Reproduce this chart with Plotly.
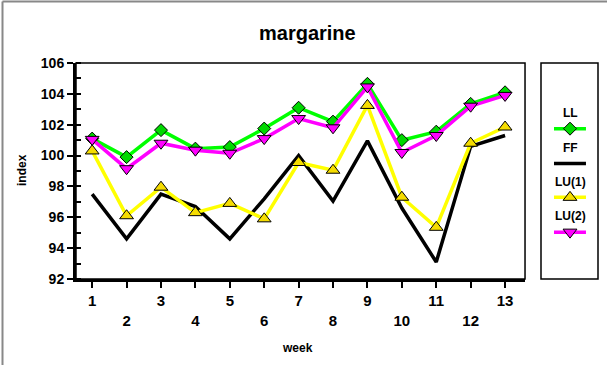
import plotly.graph_objects as go

# ---- data ----
weeks = list(range(1, 14))
week_labels = [str(w) if w % 2 == 1 else "<br>" + str(w) for w in weeks]
LL = [101.1, 99.9, 101.65, 100.45, 100.55, 101.75, 103.1, 102.2, 104.65, 101.0, 101.55, 103.35, 104.1]
FF = [97.5, 94.6, 97.5, 96.7, 94.6, 97.2, 100.0, 97.05, 100.95, 96.6, 93.1, 100.6, 101.3]
LU1 = [100.3, 96.1, 97.95, 96.3, 96.9, 95.9, 99.55, 99.05, 103.25, 97.3, 95.35, 100.8, 101.85]
LU2 = [101.05, 99.15, 100.8, 100.35, 100.15, 101.1, 102.4, 101.8, 104.45, 100.2, 101.3, 103.2, 103.9]
series_names = ["LL", "FF", "LU(1)", "LU(2)"]

FONT = "Liberation Sans, Arial, Helvetica, sans-serif"

styles = {
    "LL": dict(line="#00ff00", marker=dict(symbol="diamond", size=10, color="#00d800",
                                          line=dict(color="black", width=1))),
    "FF": dict(line="black", marker=None),
    "LU(1)": dict(line="#ffff00", marker=dict(symbol="triangle-up", size=12, color="#f5dc00",
                                             line=dict(color="black", width=1))),
    "LU(2)": dict(line="#ff00ff", marker=dict(symbol="triangle-down", size=12, color="#ff00ff",
                                             line=dict(color="black", width=1))),
}
values = {"LL": LL, "FF": FF, "LU(1)": LU1, "LU(2)": LU2}

fig = go.Figure()
for name in ["FF", "LU(1)", "LL", "LU(2)"]:
    st = styles[name]
    fig.add_trace(go.Scatter(
        x=weeks, y=values[name], name=name,
        mode="lines+markers" if st["marker"] else "lines",
        line=dict(color=st["line"], width=3.5),
        marker=st["marker"], showlegend=False, xaxis="x", yaxis="y", cliponaxis=False))

# ---- custom legend on a hidden axis pair ----
leg_text_y = [0.770, 0.608, 0.447, 0.290]
leg_line_y = [0.696, 0.535, 0.378, 0.217]
annotations = []
for name, ty, ly in zip(series_names, leg_text_y, leg_line_y):
    st = styles[name]
    fig.add_trace(go.Scatter(x=[0.228, 0.789], y=[ly, ly], mode="lines",
                             line=dict(color=st["line"], width=3.5),
                             showlegend=False, xaxis="x2", yaxis="y2", hoverinfo="skip"))
    if st["marker"]:
        fig.add_trace(go.Scatter(x=[0.509], y=[ly], mode="markers", marker=st["marker"],
                                 showlegend=False, xaxis="x2", yaxis="y2", hoverinfo="skip"))
    annotations.append(dict(x=0.509, y=ty, xref="x2", yref="y2", text=name, showarrow=False,
                            xanchor="center", yanchor="middle",
                            font=dict(size=12, color="black", family=FONT, weight="bold")))

# titles (paper coords relative to plot area: l=76, width 522; bottom=279, height 216)
annotations.append(dict(x=(307 - 76) / 522, y=(279 - 33) / 216, xref="paper", yref="paper",
                        text="margarine", showarrow=False, xanchor="center", yanchor="middle",
                        font=dict(size=20, family=FONT, color="black", weight="bold")))
annotations.append(dict(x=(297 - 76) / 522, y=(279 - 348) / 216, xref="paper", yref="paper",
                        text="week", showarrow=False, xanchor="center", yanchor="middle",
                        font=dict(size=12, family=FONT, color="black", weight="bold")))
annotations.append(dict(x=(22 - 76) / 522, y=(279 - 170) / 216, xref="paper", yref="paper",
                        text="index", showarrow=False, textangle=-90,
                        xanchor="center", yanchor="middle",
                        font=dict(size=12, family=FONT, color="black", weight="bold")))

shapes = [
    # plot frame (thin top/right)
    dict(type="rect", xref="x domain", yref="y domain", x0=0, x1=1, y0=0, y1=1,
         line=dict(color="black", width=1.5), layer="above"),
    # legend frame
    dict(type="rect", xref="x2 domain", yref="y2 domain", x0=0, x1=1, y0=0, y1=1,
         line=dict(color="black", width=1.5), layer="above"),
    # outer gray border (top & left)
    dict(type="line", xref="paper", yref="paper", x0=(2.5 - 76) / 522, x1=(610 - 76) / 522,
         y0=(279 - 1.5) / 216, y1=(279 - 1.5) / 216, line=dict(color="#888888", width=2)),
    dict(type="line", xref="paper", yref="paper", x0=(2.5 - 76) / 522, x1=(2.5 - 76) / 522,
         y0=(279 - 1.5) / 216, y1=(279 - 370) / 216, line=dict(color="#888888", width=2)),
]

fig.update_layout(
    width=607, height=365,
    margin=dict(l=76, r=9, t=63, b=86),
    paper_bgcolor="white", plot_bgcolor="white",
    font=dict(family=FONT, color="black", weight="bold"),
    xaxis=dict(domain=[0, 0.8602], range=[0.53, 13.58], tickvals=weeks, ticktext=week_labels,
               ticks="outside", ticklen=6, tickwidth=1.5, tickcolor="black",
               showline=True, linewidth=3, linecolor="black", showgrid=False, zeroline=False,
               tickfont=dict(size=15, family=FONT, weight="bold"), fixedrange=True),
    yaxis=dict(range=[92, 106], dtick=2, tick0=92, ticks="outside", ticklen=6, tickwidth=1.5,
               tickcolor="black", showline=True, linewidth=3, linecolor="black",
               showgrid=False, zeroline=False,
               minor=dict(dtick=1, ticks="inside", ticklen=5, tickwidth=1.5, tickcolor="black"),
               tickfont=dict(size=14, family=FONT, weight="bold"), fixedrange=True),
    xaxis2=dict(domain=[0.8908, 1.0], range=[0, 1], visible=False, anchor="y2", fixedrange=True),
    yaxis2=dict(domain=[0, 1.0], range=[0, 1], visible=False, anchor="x2", fixedrange=True),
    annotations=annotations,
    shapes=shapes,
    showlegend=False,
)

fig.write_html("out.html")
